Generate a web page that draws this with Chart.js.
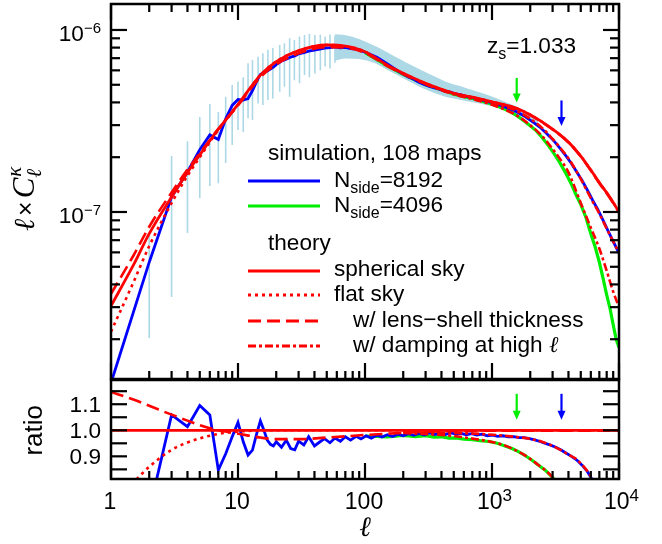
<!DOCTYPE html>
<html>
<head>
<meta charset="utf-8">
<script src="https://cdn.jsdelivr.net/npm/chart.js@4.4.1/dist/chart.umd.min.js"></script>
<style>
  html, body { margin: 0; padding: 0; background: #fff; }
  #wrap { position: relative; width: 662px; height: 544px; overflow: hidden; }
  #top { position: absolute; left: 0; top: 0; width: 662px; height: 390px; }
  #bot { position: absolute; left: 0; top: 370px; width: 662px; height: 174px; }
</style>
</head>
<body>
<div id="wrap">
  <canvas id="top" width="662" height="390"></canvas>
  <canvas id="bot" width="662" height="174"></canvas>
</div>
<script>
// ---- theory curves, top panel (l x C_l^kappa) ----
const thEll = [1, 1.5, 2, 3, 4, 5, 7, 10, 15, 20, 30, 50, 70, 100, 150, 200, 300, 500, 700, 1000, 1500, 2000, 3000, 4000, 5000, 6000, 7000, 8500, 10000];
const thSpherical = [3.05e-8, 5.1e-8, 7.6e-8, 1.21e-7, 1.65e-7, 2.06e-7, 2.85e-7, 3.9e-7, 5.65e-7, 6.7e-7, 7.7e-7, 8.27e-7, 8.15e-7, 7.6e-7, 6.4e-7, 5.78e-7, 5.09e-7, 4.49e-7, 4.27e-7, 4.03e-7, 3.75e-7, 3.42e-7, 2.85e-7, 2.42e-7, 2.03e-7, 1.7e-7, 1.45e-7, 1.2e-7, 1.0e-7];
const thFlat = [2.2e-8, 4.1e-8, 6.5e-8, 1.12e-7, 1.58e-7, 2.0e-7, 2.82e-7, 3.88e-7, 5.64e-7, 6.7e-7, 7.7e-7, 8.27e-7, 8.15e-7, 7.6e-7, 6.4e-7, 5.78e-7, 5.09e-7, 4.49e-7, 4.27e-7, 4.03e-7, 3.75e-7, 3.42e-7, 2.85e-7, 2.42e-7, 2.03e-7, 1.7e-7, 1.45e-7, 1.2e-7, 1.0e-7];
const thThick = [3.55e-8, 5.75e-8, 8.3e-8, 1.28e-7, 1.71e-7, 2.1e-7, 2.86e-7, 3.85e-7, 5.5e-7, 6.47e-7, 7.44e-7, 8.05e-7, 8.0e-7, 7.48e-7, 6.33e-7, 5.73e-7, 5.06e-7, 4.48e-7, 4.26e-7, 4.02e-7, 3.74e-7, 3.41e-7, 2.84e-7, 2.41e-7, 2.02e-7, 1.69e-7, 1.44e-7, 1.19e-7, 0.995e-7];
const dampEll = [300, 500, 700, 1000, 1500, 2000, 2500, 3000, 3500, 4000, 5000, 6000, 7000, 8000, 9000, 10000];
const damp8192 = [5.05e-7, 4.47e-7, 4.24e-7, 3.98e-7, 3.64e-7, 3.25e-7, 2.88e-7, 2.52e-7, 2.22e-7, 1.97e-7, 1.52e-7, 1.19e-7, 9.8e-8, 8.1e-8, 6.9e-8, 5.95e-8];
const damp4096 = [5.03e-7, 4.43e-7, 4.18e-7, 3.88e-7, 3.45e-7, 3.0e-7, 2.6e-7, 2.22e-7, 1.92e-7, 1.65e-7, 1.12e-7, 8.2e-8, 6.3e-8, 4.75e-8, 3.65e-8, 3.0e-8];

// ---- simulations, top panel ----
const blueEll = [1, 2, 3, 4, 5, 6, 7, 8, 9, 10, 11, 12, 13, 14, 15, 16, 17, 18, 19, 20, 22, 24, 26, 28, 30, 33, 36, 40, 44, 48, 53, 58, 64, 70, 77, 85, 93, 102, 112, 124, 136, 150, 165, 182, 200, 220, 242, 266, 293, 322, 354, 390, 429, 472, 519, 571, 628, 690, 760, 835, 920, 1010, 1110, 1220, 1340, 1480, 1630, 1790, 1970, 2170, 2390, 2630, 2890, 3180, 3500, 3850, 4230, 4650, 5120, 5630, 6200, 6820, 7500, 8250, 9080, 10000];
const blueVal = [1.15e-8, 5.3e-8, 1.21e-7, 1.66e-7, 2.2e-7, 2.65e-7, 2.5e-7, 3.25e-7, 3.85e-7, 4.15e-7, 4.12e-7, 4.2e-7, 4.65e-7, 5.2e-7, 5.7e-7, 5.85e-7, 5.95e-7, 6.1e-7, 6.25e-7, 6.45e-7,
  6.75e-7, 6.9e-7, 7.1e-7, 7.2e-7, 7.4e-7, 7.5e-7, 7.65e-7, 7.75e-7, 7.85e-7, 7.95e-7, 8.0e-7, 8.08e-7, 7.98e-7, 8.02e-7, 7.9e-7,
  7.86e-7, 7.7e-7, 7.52e-7, 7.3e-7, 7.08e-7, 6.8e-7, 6.5e-7, 6.22e-7, 5.95e-7, 5.72e-7, 5.52e-7, 5.36e-7, 5.16e-7, 5.02e-7, 4.9e-7,
  4.8e-7, 4.72e-7, 4.6e-7, 4.56e-7, 4.45e-7, 4.4e-7, 4.31e-7, 4.26e-7, 4.18e-7, 4.13e-7, 4.04e-7, 3.99e-7, 3.9e-7, 3.82e-7, 3.71e-7,
  3.62e-7, 3.5e-7, 3.37e-7, 3.22e-7, 3.07e-7, 2.92e-7, 2.74e-7, 2.57e-7, 2.39e-7, 2.2e-7, 2.02e-7, 1.84e-7, 1.66e-7, 1.49e-7, 1.32e-7,
  1.16e-7, 1.03e-7, 9.0e-8, 7.8e-8, 6.8e-8, 5.95e-8];
const greenEll = [100, 150, 200, 300, 400, 500, 600, 700, 800, 900, 1000, 1200, 1400, 1600, 1800, 2000, 2200, 2500, 2800, 3100, 3400, 3800, 4200, 4600, 5000, 5500, 6000, 6500, 7000, 7500, 8000, 8500, 9000, 9500, 10000];
const greenVal = [7.5e-7, 6.35e-7, 5.7e-7, 5.0e-7, 4.7e-7, 4.44e-7, 4.3e-7, 4.2e-7, 4.1e-7, 4.0e-7, 3.92e-7, 3.72e-7, 3.55e-7, 3.35e-7, 3.15e-7, 2.98e-7, 2.82e-7, 2.55e-7, 2.3e-7, 2.08e-7, 1.88e-7, 1.64e-7, 1.43e-7, 1.24e-7, 1.1e-7, 9.3e-8, 7.6e-8, 6.4e-8, 5.3e-8, 4.3e-8, 3.5e-8, 2.95e-8, 2.4e-8, 2.0e-8, 1.8e-8];

// error bars of the simulation (light blue)
const errEll = [2, 3, 4, 5, 6, 7, 8, 9, 10, 11, 12, 13, 14.4, 15.7, 17.2, 18.8, 21.3, 23.2, 25.5, 27.8, 30.5, 33.4, 36.5, 40.3, 44.5, 48.5, 53, 58];
const errLo = [2.03e-8, 3.41e-8, 7.67e-8, 1.19e-7, 1.39e-7, 1.44e-7, 1.86e-7, 2.33e-7, 2.82e-7, 2.75e-7, 3.27e-7, 3.2e-7, 3.95e-7, 3.87e-7, 4.12e-7, 4.2e-7, 4.58e-7, 4.87e-7, 4.3e-7, 5.3e-7, 5.1e-7, 5.65e-7, 5.5e-7, 5.77e-7, 6.0e-7, 6.3e-7, 6.15e-7, 6.6e-7];
const errHi = [7.7e-8, 2.03e-7, 2.45e-7, 3.33e-7, 3.92e-7, 3.54e-7, 4.3e-7, 4.98e-7, 5.2e-7, 5.5e-7, 6.56e-7, 6.84e-7, 7.13e-7, 7.46e-7, 7.78e-7, 7.95e-7, 8.27e-7, 8.45e-7, 9.0e-7, 8.82e-7, 9.2e-7, 9.38e-7, 9.5e-7, 9.38e-7, 9.4e-7, 9.2e-7, 9.45e-7, 9.3e-7];
const bandEll = [58, 70, 90, 120, 160, 220, 300, 420, 600, 850, 1200, 1700, 2300];
const bandHi = [9.3e-7, 9.2e-7, 8.75e-7, 8.0e-7, 7.2e-7, 6.4e-7, 5.75e-7, 5.15e-7, 4.75e-7, 4.4e-7, 4.02e-7, 3.62e-7, 3.15e-7];
const bandLo = [6.9e-7, 7.1e-7, 7.05e-7, 6.7e-7, 6.0e-7, 5.35e-7, 4.8e-7, 4.4e-7, 4.17e-7, 3.98e-7, 3.74e-7, 3.42e-7, 3.02e-7];

// ---- ratio panel ----
const ratioBlueEll = [2, 3, 4, 5, 6, 7, 8, 9, 10, 11, 12, 13, 14, 15, 16, 17, 18, 19, 20, 22, 24, 26, 28, 30, 33, 36, 40, 44, 48, 53, 58, 64, 70, 77, 85, 93, 102, 112, 124, 136, 150, 165, 182, 200, 220, 242, 266, 293, 322, 354, 390, 429, 472, 519, 571, 628, 690, 760, 835, 920, 1010, 1110, 1220, 1340, 1480, 1630, 1790, 1970, 2170, 2390, 2630, 2890, 3180, 3500, 3850, 4230, 4650, 5120, 5630, 6200, 6820, 7500];
const ratioBlue = [0.69, 1.059, 1.014, 1.095, 1.059, 0.847, 0.91, 0.975, 1.03, 0.956, 0.905, 0.924, 0.985, 1.036, 1.0, 0.962, 0.946, 0.94, 0.956,
  0.935, 0.962, 0.93, 0.925, 0.958, 0.944, 0.975, 0.94, 0.955, 0.968, 0.952, 0.97, 0.958, 0.975, 0.962,
  0.977, 0.967, 0.979, 0.97, 0.981, 0.974, 0.983, 0.976, 0.985, 0.979, 0.987, 0.981, 0.988, 0.982, 0.99,
  0.984, 0.989, 0.984, 0.99, 0.985, 0.988, 0.983, 0.987, 0.982, 0.985, 0.979, 0.981, 0.977, 0.979, 0.975,
  0.976, 0.972, 0.972, 0.968, 0.963, 0.957, 0.95, 0.943, 0.935, 0.924, 0.912, 0.9, 0.886, 0.866, 0.842, 0.808, 0.77, 0.73];
const ratioGreenEll = [100, 150, 200, 250, 300, 350, 400, 458, 520, 600, 700, 800, 946, 1100, 1250, 1436, 1600, 1800, 2056, 2300, 2612, 2850, 3050, 3300];
const ratioGreen = [0.978, 0.975, 0.98, 0.976, 0.979, 0.974, 0.975, 0.97, 0.971, 0.966, 0.964, 0.96, 0.957, 0.95, 0.941, 0.93, 0.919, 0.905, 0.886, 0.868, 0.848, 0.83, 0.815, 0.79];
const ratioSphEll = [1, 10000];
const ratioSph = [1.0, 1.0];
const ratioFlatEll = [1, 1.5, 2, 3, 4, 5, 7, 10, 20, 10000];
const ratioFlat = [0.72, 0.8, 0.86, 0.925, 0.953, 0.969, 0.986, 0.995, 1.0, 1.0];
const ratioThickEll = [1, 1.5, 2, 3, 4, 5, 6, 8, 10, 15, 20, 30, 50, 100, 200, 300, 500, 1000, 10000];
const ratioThick = [1.147, 1.118, 1.094, 1.06, 1.037, 1.02, 1.008, 0.995, 0.987, 0.972, 0.966, 0.966, 0.972, 0.982, 0.99, 0.994, 0.997, 0.998, 0.998];
const ratioDamp8192Ell = [200, 500, 1000, 1500, 2000, 2500, 3000, 3500, 4000, 4500, 5000, 5500, 6000, 6500];
const ratioDamp8192 = [0.992, 0.99, 0.983, 0.975, 0.967, 0.955, 0.94, 0.924, 0.906, 0.893, 0.873, 0.85, 0.823, 0.795];
const ratioDamp4096Ell = [200, 500, 700, 1000, 1200, 1436, 1700, 2056, 2300, 2612, 3050, 3300];
const ratioDamp4096 = [0.99, 0.978, 0.968, 0.955, 0.945, 0.93, 0.912, 0.886, 0.868, 0.848, 0.815, 0.79];

// resolution markers (arrows)
const arrowEll = [1565, 3525];
const arrowTop = [[5.45e-7, 4.0e-7], [4.1e-7, 2.97e-7]];
const arrowRatio = [1.14, 1.04];

// ---- axes ----
const xDecades = [1, 10, 100, 1000, 10000];
const xTickBase = ['1', '10', '100', '10', '10'];
const xTickExp = ['', '', '', '3', '4'];
const yTopMajor = [1e-7, 1e-6];
const yTopBase = ['10', '10'];
const yTopExp = ['\u22127', '\u22126'];
const ratioTicks = [0.85, 0.9, 0.95, 1.0, 1.05, 1.1, 1.15];
const ratioLabelVals = [0.9, 1.0, 1.1];
const ratioLabels = ['0.9', '1.0', '1.1'];

const SANS = '"Liberation Sans", Arial, sans-serif';
const SERIF = '"Liberation Serif", "Times New Roman", serif';
const RED = '#ff0000', BLUE = '#0000ff', GREEN = '#00ee00', LIGHT = '#add8e6';
const FS = 22.6;

function pts(xs, ys) { return xs.map((x, i) => ({ x: x, y: ys[i] })); }

function logMinors(lo, hi) {
  const out = [];
  for (let e = Math.floor(Math.log10(lo)); e < Math.log10(hi); e++) {
    for (let m = 2; m <= 9; m++) {
      const v = m * Math.pow(10, e);
      if (v > lo && v < hi) out.push(v);
    }
  }
  return out;
}

// draw a list of [text, size, dy, font-family, style] pieces on one baseline
function rich(ctx, x, y, parts, align) {
  const font = p => (p[4] || '') + ' ' + p[1] + 'px ' + (p[3] || SANS);
  let w = 0;
  parts.forEach(p => { ctx.font = font(p); w += ctx.measureText(p[0]).width; });
  let cx = align === 'right' ? x - w : align === 'center' ? x - w / 2 : x;
  ctx.textAlign = 'left';
  ctx.textBaseline = 'alphabetic';
  parts.forEach(p => {
    ctx.font = font(p);
    ctx.fillText(p[0], cx, y + (p[2] || 0));
    cx += ctx.measureText(p[0]).width;
  });
}

function arrow(ctx, x, y0, y1, color) {
  ctx.save();
  ctx.strokeStyle = color; ctx.fillStyle = color; ctx.lineWidth = 2.2;
  ctx.beginPath(); ctx.moveTo(x, y0); ctx.lineTo(x, y1 - 7); ctx.stroke();
  ctx.beginPath(); ctx.moveTo(x - 4, y1 - 9); ctx.lineTo(x + 4, y1 - 9); ctx.lineTo(x, y1); ctx.closePath(); ctx.fill();
  ctx.restore();
}

function drawXTicks(chart, edges) {
  const { ctx, chartArea: a, scales: { x } } = chart;
  const tick = (v, len) => {
    const px = x.getPixelForValue(v);
    edges.forEach(e => {
      const y0 = e === 'top' ? a.top : a.bottom;
      const dir = e === 'top' ? 1 : -1;
      ctx.beginPath(); ctx.moveTo(px, y0); ctx.lineTo(px, y0 + dir * len); ctx.stroke();
    });
  };
  xDecades.forEach(v => tick(v, 16));
  logMinors(1, 10000).forEach(v => tick(v, 8));
}

function drawYTicks(chart, list, len) {
  const { ctx, chartArea: a, scales: { y } } = chart;
  list.forEach(v => {
    const py = y.getPixelForValue(v);
    ctx.beginPath(); ctx.moveTo(a.left, py); ctx.lineTo(a.left + len, py); ctx.stroke();
    ctx.beginPath(); ctx.moveTo(a.right, py); ctx.lineTo(a.right - len, py); ctx.stroke();
  });
}

function legendLine(ctx, y, color, dash) {
  ctx.save();
  ctx.strokeStyle = color; ctx.lineWidth = 2.8; ctx.setLineDash(dash);
  ctx.beginPath(); ctx.moveTo(248, y); ctx.lineTo(320, y); ctx.stroke();
  ctx.restore();
}

const topDecor = {
  id: 'topDecor',
  afterDraw(chart) {
    const { ctx, chartArea: a, scales: { x, y } } = chart;
    ctx.save();
    ctx.strokeStyle = '#000'; ctx.fillStyle = '#000'; ctx.lineWidth = 2.2;
    drawXTicks(chart, ['top', 'bottom']);
    drawYTicks(chart, yTopMajor, 16);
    drawYTicks(chart, logMinors(y.min, y.max), 9);
    ctx.lineWidth = 2.5;
    ctx.strokeRect(a.left, a.top, a.right - a.left, a.bottom - a.top);

    // y tick labels
    yTopMajor.forEach((v, i) => {
      const py = y.getPixelForValue(v);
      rich(ctx, 101, py + 11, [[yTopBase[i], FS, 0], [yTopExp[i], 15, -7.5]], 'right');
    });

    // y axis title: l x C_l^kappa
    ctx.save();
    ctx.translate(34, 231);
    ctx.rotate(-Math.PI / 2);
    ctx.textAlign = 'left'; ctx.textBaseline = 'alphabetic';
    let cx = 0;
    ctx.font = 'italic 29px ' + SERIF; ctx.fillText('\u2113', cx, 0); cx += ctx.measureText('\u2113').width + 3;
    ctx.font = '25px ' + SANS; ctx.fillText('\u00d7', cx, 0); cx += ctx.measureText('\u00d7').width + 3;
    ctx.font = 'italic 31px ' + SERIF; ctx.fillText('C', cx, 0); cx += ctx.measureText('C').width;
    ctx.font = 'italic 21px ' + SERIF; ctx.fillText('\u2113', cx, 7); ctx.fillText('\u03ba', cx + 1, -13);
    ctx.restore();

    // source redshift
    rich(ctx, 487, 53, [['z', FS, 0], ['s', 16, 6], ['=1.033', FS, 0]], 'left');

    // legend
    rich(ctx, 268, 160, [['simulation, 108 maps', FS, 0]], 'left');
    legendLine(ctx, 181, BLUE, []);
    rich(ctx, 334, 187, [['N', FS, 0], ['side', 16, 6], ['=8192', FS, 0]], 'left');
    legendLine(ctx, 206, GREEN, []);
    rich(ctx, 334, 212, [['N', FS, 0], ['side', 16, 6], ['=4096', FS, 0]], 'left');
    rich(ctx, 268, 250, [['theory', FS, 0]], 'left');
    legendLine(ctx, 271, RED, []);
    rich(ctx, 334, 276, [['spherical sky', FS, 0]], 'left');
    legendLine(ctx, 295, RED, [3, 4]);
    rich(ctx, 334, 301, [['flat sky', FS, 0]], 'left');
    legendLine(ctx, 321, RED, [13, 6]);
    rich(ctx, 353, 327, [['w/ lens\u2212shell thickness', FS, 0]], 'left');
    legendLine(ctx, 346, RED, [8, 3, 3, 3]);
    rich(ctx, 353, 352, [['w/ damping at high ', FS, 0], ['\u2113', 23, 0, SERIF, 'italic']], 'left');

    // resolution arrows
    const cols = [GREEN, BLUE];
    arrowEll.forEach((l, i) => {
      arrow(ctx, x.getPixelForValue(l), y.getPixelForValue(arrowTop[i][0]), y.getPixelForValue(arrowTop[i][1]), cols[i]);
    });
    ctx.restore();
  }
};

const botDecor = {
  id: 'botDecor',
  afterDraw(chart) {
    const { ctx, chartArea: a, scales: { x, y } } = chart;
    ctx.save();
    ctx.strokeStyle = '#000'; ctx.fillStyle = '#000'; ctx.lineWidth = 2.2;
    drawXTicks(chart, ['bottom']);
    drawYTicks(chart, ratioTicks, 16);
    ctx.lineWidth = 2.5;
    ctx.strokeRect(a.left, a.top, a.right - a.left, a.bottom - a.top);

    ratioLabelVals.forEach((v, i) => {
      rich(ctx, 101, y.getPixelForValue(v) + 8, [[ratioLabels[i], FS, 0]], 'right');
    });
    xDecades.forEach((v, i) => {
      const px = x.getPixelForValue(v);
      const parts = [[xTickBase[i], 23, 0]];
      if (xTickExp[i]) parts.push([xTickExp[i], 17, -8]);
      rich(ctx, px + (xTickExp[i] ? 2.5 : -1), 138.5, parts, 'center');
    });
    rich(ctx, 365, 166, [['\u2113', 28, 0, SERIF, 'italic']], 'center');

    ctx.save();
    ctx.translate(42, y.getPixelForValue(1.0));
    ctx.rotate(-Math.PI / 2);
    ctx.font = '26px ' + SANS; ctx.textAlign = 'center'; ctx.textBaseline = 'alphabetic';
    ctx.fillText('ratio', 0, 0);
    ctx.restore();

    const cols = [GREEN, BLUE];
    arrowEll.forEach((l, i) => {
      arrow(ctx, x.getPixelForValue(l), y.getPixelForValue(arrowRatio[0]), y.getPixelForValue(arrowRatio[1]), cols[i]);
    });
    ctx.restore();
  }
};

function line(data, color, dash, width, extra) {
  return Object.assign({
    data: data, borderColor: color, borderWidth: width || 2.8, borderDash: dash || [],
    pointRadius: 0, fill: false, tension: 0, borderCapStyle: 'butt'
  }, extra || {});
}
const smooth = { cubicInterpolationMode: 'monotone' };

const errData = [];
errEll.forEach((l, i) => {
  errData.push({ x: l, y: errLo[i] }, { x: l, y: errHi[i] }, { x: l, y: null });
});

const baseScales = (yOpts, xHeight) => ({
  x: {
    type: 'logarithmic', min: 1, max: 10000, bounds: 'data',
    ticks: { display: false }, grid: { display: false }, border: { display: false },
    afterFit: s => { s.height = xHeight; }
  },
  y: Object.assign({
    bounds: 'data',
    ticks: { display: false }, grid: { display: false }, border: { display: false },
    afterFit: s => { s.width = 111; }
  }, yOpts)
});

new Chart(document.getElementById('top'), {
  type: 'line',
  data: {
    datasets: [
      line(pts(thEll, thSpherical), RED, [], 2.8, smooth),
      line(pts(dampEll, damp8192), RED, [8, 3, 3, 3], 2.6, smooth),
      line(pts(dampEll, damp4096), RED, [8, 3, 3, 3], 2.6, smooth),
      line(pts(thEll, thThick), RED, [13, 6], 2.6, smooth),
      line(pts(thEll, thFlat), RED, [3, 4], 2.6, smooth),
      line(pts(blueEll, blueVal), BLUE, [], 2.8),
      line(pts(greenEll, greenVal), GREEN, [], 3.2),
      line(errData, LIGHT, [], 1.6, { spanGaps: false }),
      line(pts(bandEll, bandHi), LIGHT, [], 0, Object.assign({ fill: '+1', backgroundColor: LIGHT }, smooth)),
      line(pts(bandEll, bandLo), LIGHT, [], 0, smooth)
    ]
  },
  options: {
    responsive: false, animation: false, events: [],
    layout: { padding: { left: 0, right: 43, top: 4, bottom: 0 } },
    plugins: { legend: { display: false }, tooltip: { enabled: false } },
    scales: baseScales({ type: 'logarithmic', min: 1.209e-8, max: 1.389e-6 }, 11)
  },
  plugins: [topDecor]
});

new Chart(document.getElementById('bot'), {
  type: 'line',
  data: {
    datasets: [
      line(pts(ratioSphEll, ratioSph), RED, [], 2.8),
      line(pts(ratioDamp8192Ell, ratioDamp8192), RED, [8, 3, 3, 3], 2.6, smooth),
      line(pts(ratioDamp4096Ell, ratioDamp4096), RED, [8, 3, 3, 3], 2.6, smooth),
      line(pts(ratioThickEll, ratioThick), RED, [13, 6], 2.6, smooth),
      line(pts(ratioFlatEll, ratioFlat), RED, [3, 4], 2.6, smooth),
      line(pts(ratioBlueEll, ratioBlue), BLUE, [], 2.8),
      line(pts(ratioGreenEll, ratioGreen), GREEN, [], 3.2)
    ]
  },
  options: {
    responsive: false, animation: false, events: [],
    layout: { padding: { left: 0, right: 43, top: 10, bottom: 0 } },
    plugins: { legend: { display: false }, tooltip: { enabled: false } },
    scales: baseScales({ type: 'linear', min: 0.813, max: 1.193 }, 65)
  },
  plugins: [botDecor]
});
</script>
</body>
</html>
